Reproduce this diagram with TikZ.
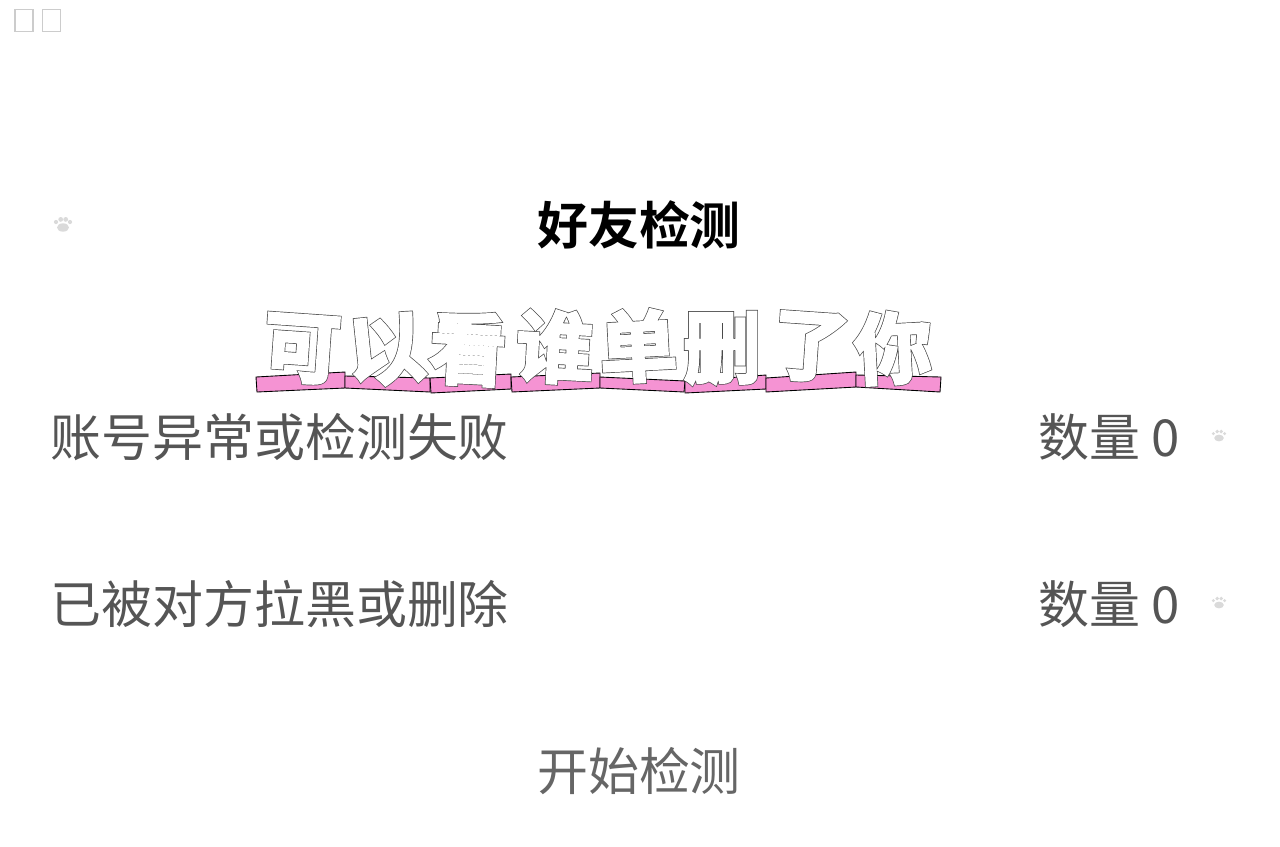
\documentclass[tikz,border=0pt]{standalone}
\usepackage{fontspec}
\usepackage{xcolor}
\setmainfont{Noto Sans CJK SC}
\newfontfamily\blobout[FakeBold=5.6]{Noto Sans CJK SC Bold}
\newfontfamily\blobin[FakeBold=3.8]{Noto Sans CJK SC Bold}
\definecolor{rowgray}{HTML}{555555}
\definecolor{startgray}{HTML}{666666}
\definecolor{pawgray}{HTML}{DADADA}
\definecolor{stripink}{HTML}{F593D3}
\definecolor{edgegray}{HTML}{4A4A4A}
\newcommand{\blobchar}[5]{%
  \node[blobedge, rotate=#4] (#1e) at (#2,#3) {#5};
  \node[blobfill, rotate=#4] (#1) at (#2,#3) {#5};
}
\tikzset{
  rowtext/.style={inner sep=0pt, text=rowgray, font=\fontsize{29}{29}\selectfont},
  strip/.style={fill=stripink, draw=black, line width=0.5pt},
  blobedge/.style={inner sep=0pt, text=edgegray, font=\fontsize{44}{44}\blobout},
  blobfill/.style={inner sep=0pt, text=white, font=\fontsize{44}{44}\blobin},
  tofu/.style={draw=black!20, line width=0.6pt, minimum width=0.36cm, minimum height=0.44cm, inner sep=0pt},
  paw/.pic={
    \fill[pawgray] (0,2.5) ellipse (6 and 4.2);
    \fill[pawgray] (-7,-3) circle (2.1);
    \fill[pawgray] (-2.3,-5.6) circle (2.4);
    \fill[pawgray] (2.7,-5.6) circle (2.4);
    \fill[pawgray] (7,-3) circle (2.1);
  }
}
\begin{document}
\begin{tikzpicture}[x=0.02cm, y=-0.02cm]
 \useasboundingbox (0,0) rectangle (1280,846);
 % Two empty glyph boxes in the corner
 \node[tofu] (box1) at (24,20.5) {};
 \node[tofu] (box2) at (51.5,20.5) {};

 % Title and small paws
 \node[inner sep=0pt, font=\fontsize{29}{29}\fontspec{Noto Sans CJK SC Bold}] (title) at (639,225) {好友检测};
 \pic at (63,225) {paw};
 \pic[scale=0.8] at (1219,436) {paw};
 \pic[scale=0.8] at (1219,603) {paw};

 % Pink strips under the sticker text
 \filldraw[strip] (256,377) -- (345,372) -- (345,388) -- (257,392) -- cycle;
 \filldraw[strip] (345,376) -- (430,378) -- (430,392) -- (345,388) -- cycle;
 \filldraw[strip] (430,378) -- (511,374) -- (511,389) -- (431,393) -- cycle;
 \filldraw[strip] (511,377) -- (600,373) -- (600,388) -- (512,392) -- cycle;
 \filldraw[strip] (600,377) -- (685,381) -- (684,392) -- (600,388) -- cycle;
 \filldraw[strip] (685,381) -- (766,375) -- (766,389) -- (685,393) -- cycle;
 \filldraw[strip] (766,378) -- (856,372) -- (856,387) -- (766,392) -- cycle;
 \filldraw[strip] (856,375) -- (941,377) -- (940,392) -- (856,387) -- cycle;

 % Sticker text, one letter at a time
 \blobchar{ke}{302}{349}{-4}{可}
 \blobchar{yi}{386}{350}{6}{以}
 \blobchar{kan}{468}{349}{-3}{看}
 \blobchar{shui}{555}{347}{-3}{谁}
 \blobchar{dan}{638}{346}{3}{单}
 \blobchar{shan}{722}{348}{0}{删}
 \blobchar{le}{811}{347}{-4}{了}
 \blobchar{ni}{893}{348}{3}{你}

 % Rows
 \node[rowtext, anchor=west] (row1) at (50,437) {账号异常或检测失败};
 \node[rowtext, anchor=east] (count1) at (1180,437) {数量 0};
 \node[rowtext, anchor=west] (row2) at (50,604) {已被对方拉黑或删除};
 \node[rowtext, anchor=east] (count2) at (1180,604) {数量 0};
 \node[rowtext, text=startgray] (start) at (639,771) {开始检测};
\end{tikzpicture}
\end{document}
